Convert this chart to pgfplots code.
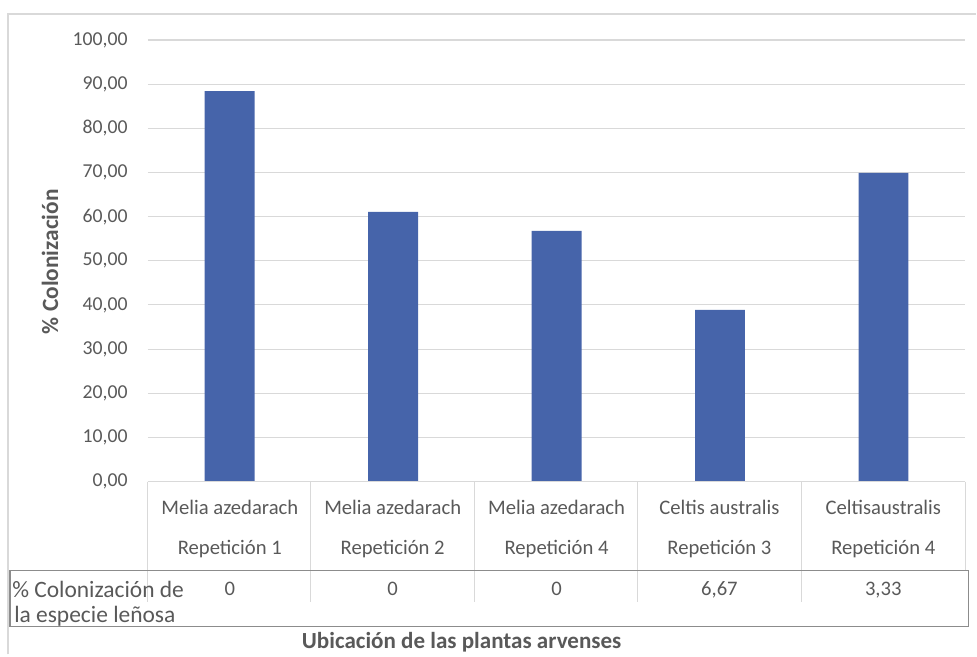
\documentclass[border=0pt]{standalone}
\usepackage{pgfplots}
\pgfplotsset{compat=1.18}
\usepackage{fontspec}
\setmainfont{Carlito}
\definecolor{barblue}{HTML}{4664AA}
\definecolor{txtgray}{HTML}{595959}
\definecolor{gridgray}{HTML}{D9D9D9}
\definecolor{boxgray}{HTML}{8C8C8C}
\begin{document}
\begin{tikzpicture}
\begin{scope}[x=0.75pt,y=-0.75pt]
\path (0,0) rectangle (977,655);
\draw[gridgray, line width=1.2pt] (8,655) -- (8,14) -- (977,14);
\end{scope}
\begin{axis}[
  at={(111pt,-361.5pt)}, anchor=south west,
  scale only axis, width=613.5pt, height=331.5pt,
  xmin=-0.5, xmax=4.5, ymin=0, ymax=100,
  ytick={0,10,...,100},
  xtick=\empty,
  axis line style={draw=none},
  ymajorgrids, grid style={gridgray, line width=0.8pt},
  major tick length=0pt,
  /pgf/number format/.cd, fixed, fixed zerofill, precision=2, use comma, 1000 sep={}, assume math mode=true,
  /pgfplots/.cd,
  yticklabel style={font=\fontsize{14.8}{16}\selectfont, text=txtgray, anchor=east, inner sep=0pt, xshift=-15pt},
  clip=false,
]
\addplot[ybar, bar width=37.5pt, fill=barblue, draw=none] coordinates {
(0,88.4) (1,61.1) (2,56.8) (3,38.9) (4,69.9)};
\end{axis}
\begin{scope}[x=0.75pt,y=-0.75pt, every node/.style={font=\fontsize{15.5}{17}\selectfont, text=txtgray}]
% table grid lines
\draw[gridgray, line width=0.8pt] (148,482) -- (966,482);
\foreach \xx in {148,311,475,638,802} \draw[gridgray, line width=0.8pt] (\xx,482) -- (\xx,602);
\draw[gridgray, line width=0.8pt] (966,482) -- (966,571);
\draw[boxgray, line width=0.8pt] (10,571) rectangle (969,627);
% category labels
\foreach \cx/\la/\lb in {230/Melia azedarach/Repetición 1, 393/Melia azedarach/Repetición 2, 557/Melia azedarach/Repetición 4, 720/Celtis australis/Repetición 3, 884/Celtisaustralis/Repetición 4}{
  \node[anchor=base] at (\cx,515) {\la};
  \node[anchor=base] at (\cx,555) {\lb};
}
\foreach \cx/\v in {230/0, 393/0, 557/0, 720/{6,67}, 884/{3,33}}{
  \node[anchor=base] at (\cx,596) {\v};
}
\node[anchor=west, inner sep=0pt, font=\fontsize{17.6}{19}\selectfont] at (12,590) {\% Colonización de};
\node[anchor=west, inner sep=0pt, font=\fontsize{17.6}{19}\selectfont] at (14,617) {la especie leñosa};
\node[font=\fontsize{17.3}{19}\selectfont\bfseries] at (462,643) {Ubicación de las plantas arvenses};
\node[font=\fontsize{17.5}{19}\selectfont\bfseries, rotate=90] at (50,262) {\% Colonización};
\end{scope}
\end{tikzpicture}
\end{document}
